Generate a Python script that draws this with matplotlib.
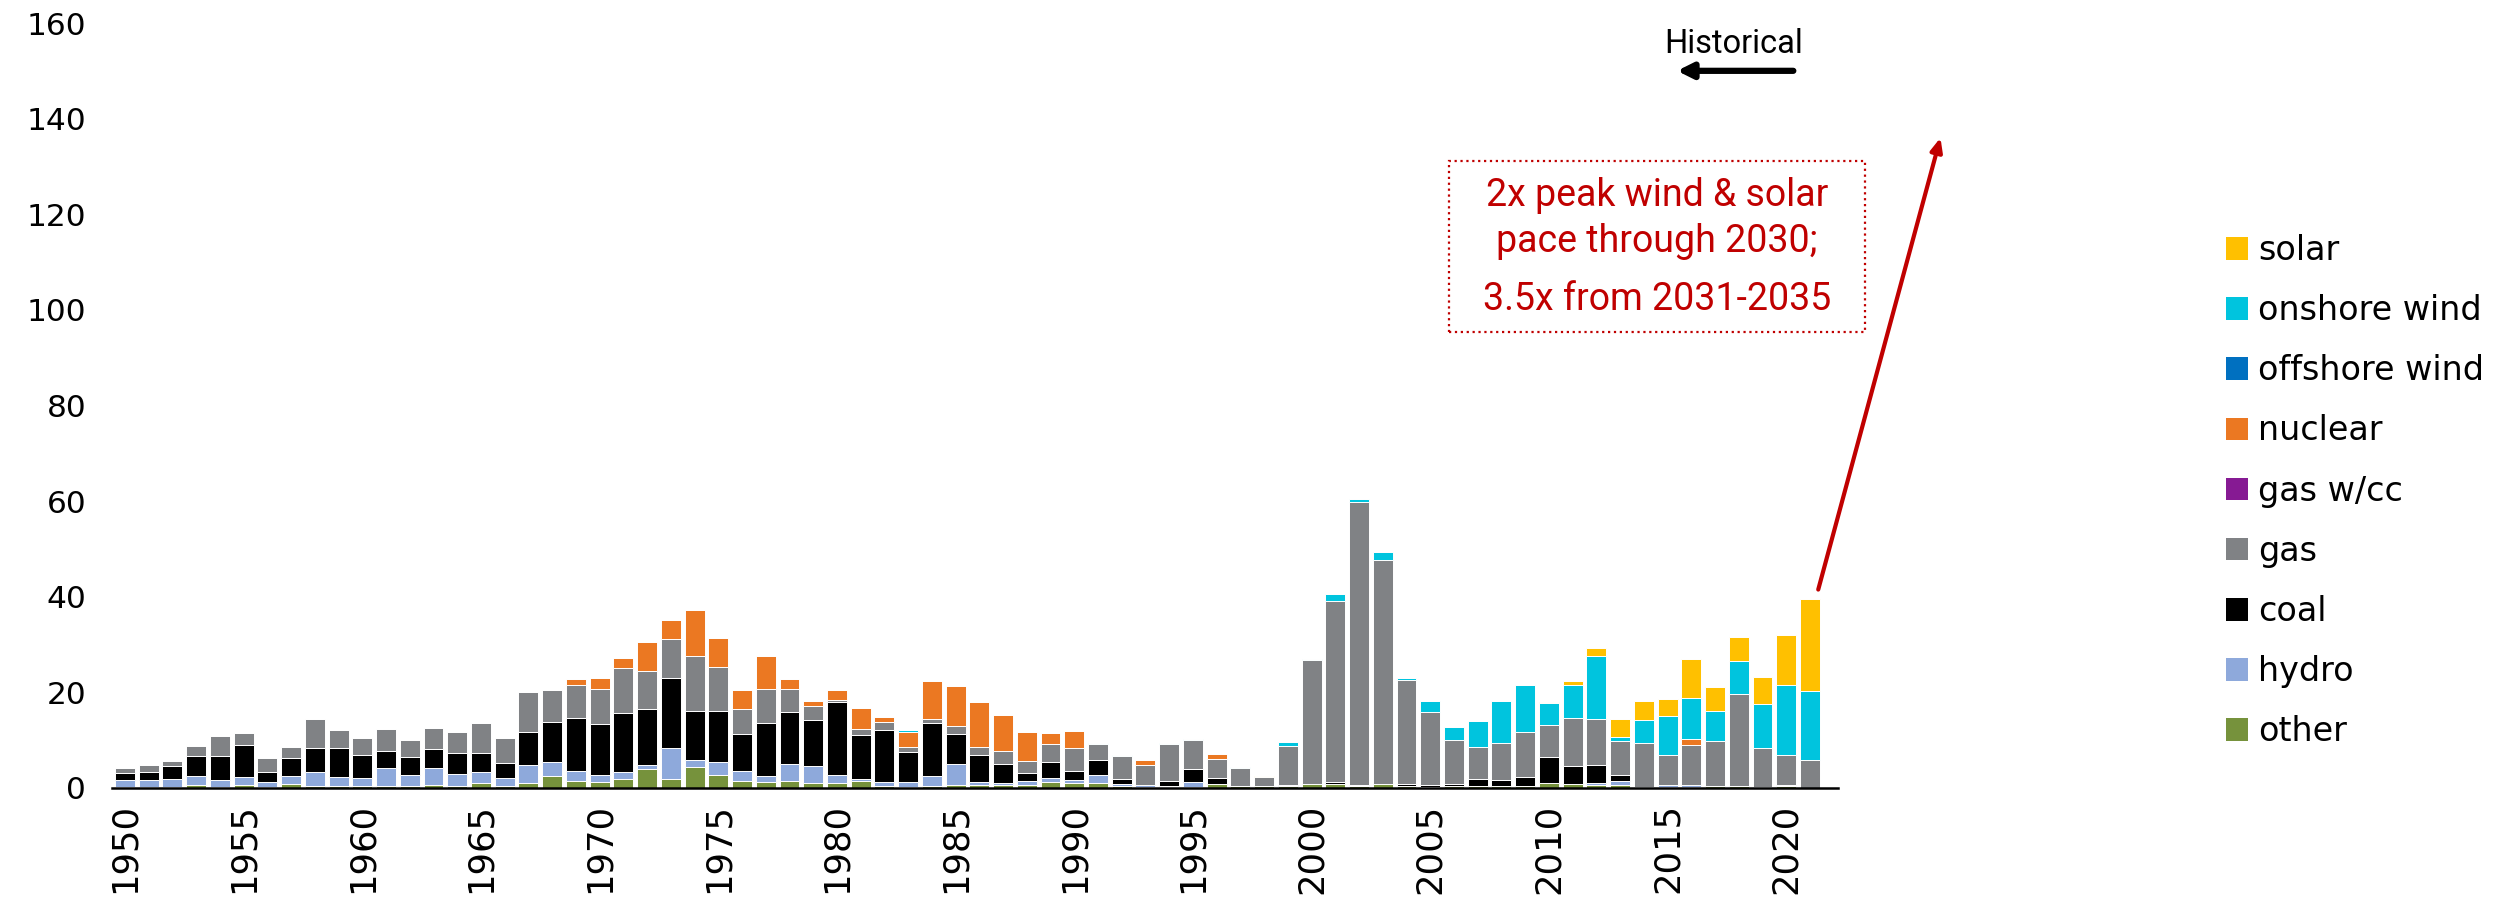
import numpy as np
import matplotlib
matplotlib.use("Agg")
import matplotlib.pyplot as plt
from matplotlib.patches import Patch, Rectangle

# capacity additions by year and type
years = list(range(1950, 2022))

other = [0.3, 0.2, 0.2, 0.6, 0.3, 0.7, 0.1, 0.9, 0.5, 0.5,
         0.4, 0.5, 0.35, 0.7, 0.5, 1.1, 0.4, 1.0, 2.6, 1.5,
         1.2, 1.8, 4.0, 1.9, 4.3, 2.7, 1.5, 1.3, 1.5, 1.1,
         1.1, 1.5, 0.35, 0.2, 0.4, 0.6, 0.6, 0.6, 0.6, 1.3,
         1.0, 1.0, 0.35, 0.3, 0.3, 0.2, 0.8, 0.5, 0.35, 0.35,
         0.8, 0.8, 0.4, 0.8, 0.4, 0.3, 0.5, 0.5, 0.4, 0.4,
         1.1, 0.8, 0.7, 0.7, 0.3, 0.3, 0.3, 0.5, 0.5, 0.3,
         0.4, 0.0]
hydro = [1.3, 1.4, 1.7, 2.0, 1.3, 1.6, 1.1, 1.5, 2.9, 1.7,
         1.6, 3.6, 2.4, 3.4, 2.4, 2.2, 1.6, 3.9, 2.9, 2.0,
         1.6, 1.5, 0.8, 6.5, 1.5, 2.8, 2.0, 1.3, 3.6, 3.4,
         1.7, 0.35, 1.0, 1.0, 2.0, 4.5, 0.7, 0.4, 0.8, 0.8,
         0.6, 1.7, 0.4, 0.3, 0.2, 1.1, 0.0, 0.0, 0.0, 0.0,
         0.0, 0.0, 0.2, 0.0, 0.0, 0.0, 0.0, 0.0, 0.0, 0.1,
         0.0, 0.0, 0.4, 0.7, 0.0, 0.3, 0.3, 0.0, 0.0, 0.0,
         0.2, 0.0]
coal = [1.5, 1.7, 2.7, 4.0, 5.1, 6.6, 2.2, 3.8, 5.0, 6.1,
        4.9, 3.7, 3.8, 4.1, 4.5, 4.1, 3.3, 6.8, 8.2, 11.2,
        10.6, 12.4, 11.7, 14.5, 10.2, 10.6, 7.7, 10.9, 10.8, 9.8,
        15.2, 9.2, 10.8, 6.4, 11.2, 6.1, 5.7, 4.1, 1.8, 3.4,
        1.9, 3.1, 1.2, 0.0, 0.9, 2.6, 1.2, 0.0, 0.0, 0.2,
        0.0, 0.35, 0.0, 0.0, 0.4, 0.3, 0.4, 1.3, 1.3, 1.7,
        5.4, 3.8, 3.7, 1.3, 0.0, 0.0, 0.0, 0.0, 0.0, 0.0,
        0.0, 0.0]
gas = [1.0, 1.5, 1.1, 2.2, 4.1, 2.6, 2.9, 2.4, 6.1, 3.9,
       3.6, 4.5, 3.4, 4.3, 4.3, 6.2, 5.2, 8.4, 6.8, 6.8,
       7.4, 9.3, 7.9, 8.3, 11.7, 9.1, 5.4, 7.3, 4.7, 2.9,
       0.5, 1.3, 1.7, 0.9, 0.9, 1.7, 1.6, 2.7, 2.5, 3.6,
       4.8, 3.3, 4.7, 4.3, 7.8, 6.1, 4.0, 3.6, 2.0, 8.2,
       26.0, 38.0, 59.2, 46.8, 21.7, 15.3, 9.1, 6.8, 7.8, 9.5,
       6.6, 10.0, 9.6, 7.2, 9.1, 6.3, 8.4, 9.4, 19.2, 8.1,
       6.3, 5.9]
gas_cc = [0.0, 0.0, 0.0, 0.0, 0.0, 0.0, 0.0, 0.0, 0.0, 0.0,
          0.0, 0.0, 0.0, 0.0, 0.0, 0.0, 0.0, 0.0, 0.0, 0.0,
          0.0, 0.0, 0.0, 0.0, 0.0, 0.0, 0.0, 0.0, 0.0, 0.0,
          0.0, 0.0, 0.0, 0.0, 0.0, 0.0, 0.0, 0.0, 0.0, 0.0,
          0.0, 0.0, 0.0, 0.0, 0.0, 0.0, 0.0, 0.0, 0.0, 0.0,
          0.0, 0.0, 0.0, 0.0, 0.0, 0.0, 0.0, 0.0, 0.0, 0.0,
          0.0, 0.0, 0.0, 0.0, 0.0, 0.0, 0.0, 0.0, 0.0, 0.0,
          0.0, 0.0]
nuclear = [0.0, 0.0, 0.0, 0.0, 0.0, 0.0, 0.0, 0.0, 0.0, 0.0,
           0.0, 0.0, 0.0, 0.0, 0.0, 0.0, 0.0, 0.0, 0.0, 1.3,
           2.2, 2.2, 6.2, 4.0, 9.6, 6.1, 3.8, 6.8, 2.2, 0.9,
           2.0, 4.3, 1.0, 3.2, 7.9, 8.5, 9.4, 7.5, 6.0, 2.4,
           3.6, 0.0, 0.0, 1.0, 0.0, 0.0, 1.1, 0.0, 0.0, 0.0,
           0.0, 0.0, 0.0, 0.0, 0.0, 0.0, 0.0, 0.0, 0.0, 0.0,
           0.0, 0.0, 0.0, 0.0, 0.0, 0.0, 1.2, 0.0, 0.0, 0.0,
           0.0, 0.0]
offshore_wind = [0.0, 0.0, 0.0, 0.0, 0.0, 0.0, 0.0, 0.0, 0.0, 0.0,
                 0.0, 0.0, 0.0, 0.0, 0.0, 0.0, 0.0, 0.0, 0.0, 0.0,
                 0.0, 0.0, 0.0, 0.0, 0.0, 0.0, 0.0, 0.0, 0.0, 0.0,
                 0.0, 0.0, 0.0, 0.0, 0.0, 0.0, 0.0, 0.0, 0.0, 0.0,
                 0.0, 0.0, 0.0, 0.0, 0.0, 0.0, 0.0, 0.0, 0.0, 0.0,
                 0.0, 0.0, 0.0, 0.0, 0.0, 0.0, 0.0, 0.0, 0.0, 0.0,
                 0.0, 0.0, 0.0, 0.0, 0.0, 0.0, 0.0, 0.0, 0.0, 0.0,
                 0.0, 0.0]
onshore_wind = [0.0, 0.0, 0.0, 0.0, 0.0, 0.0, 0.0, 0.0, 0.0, 0.0,
                0.0, 0.0, 0.0, 0.0, 0.0, 0.0, 0.0, 0.0, 0.0, 0.0,
                0.0, 0.0, 0.0, 0.0, 0.0, 0.0, 0.0, 0.0, 0.0, 0.0,
                0.0, 0.0, 0.0, 0.35, 0.0, 0.0, 0.0, 0.0, 0.0, 0.0,
                0.0, 0.3, 0.2, 0.0, 0.3, 0.2, 0.0, 0.2, 0.0, 0.8,
                0.2, 1.5, 0.7, 1.7, 0.4, 2.2, 2.7, 5.5, 8.6, 9.8,
                4.6, 6.9, 13.2, 0.8, 4.9, 8.1, 8.7, 6.1, 6.8, 9.1,
                14.7, 14.4]
solar = [0.0, 0.0, 0.0, 0.0, 0.0, 0.0, 0.0, 0.0, 0.0, 0.0,
         0.0, 0.0, 0.0, 0.0, 0.0, 0.0, 0.0, 0.0, 0.0, 0.0,
         0.0, 0.0, 0.0, 0.0, 0.0, 0.0, 0.0, 0.0, 0.0, 0.0,
         0.0, 0.0, 0.0, 0.0, 0.0, 0.0, 0.0, 0.0, 0.0, 0.0,
         0.0, 0.0, 0.0, 0.0, 0.0, 0.0, 0.0, 0.0, 0.2, 0.0,
         0.0, 0.0, 0.0, 0.0, 0.0, 0.0, 0.0, 0.0, 0.0, 0.0,
         0.3, 0.8, 1.7, 3.7, 3.8, 3.7, 8.1, 5.2, 5.0, 5.7,
         10.5, 19.2]

# bottom -> top stacking order
series = [
    ("other", other, "#76923C"),
    ("hydro", hydro, "#8EA9DB"),
    ("coal", coal, "#000000"),
    ("gas", gas, "#808285"),
    ("gas w/cc", gas_cc, "#861A93"),
    ("nuclear", nuclear, "#EB7822"),
    ("offshore wind", offshore_wind, "#0070C0"),
    ("onshore wind", onshore_wind, "#00C4DE"),
    ("solar", solar, "#FFC000"),
]

RED = "#C00000"

fig = plt.figure(figsize=(25.04, 8.99), dpi=100)
ax = fig.add_axes([0.0447, 0.1235, 0.6893, 0.8509])

x = np.array(years)
bottom = np.zeros(len(years))
for name, vals, col in series:
    v = np.array(vals)
    ax.bar(x, v, width=0.84, bottom=bottom, color=col,
           edgecolor="white", linewidth=0.7)
    bottom += v

ax.set_xlim(1949.45, 2022.18)
ax.set_ylim(0, 160)
ax.set_yticks(range(0, 161, 20))
ax.set_xticks(range(1950, 2021, 5))
ax.tick_params(axis="y", length=0, pad=18.5, labelsize=22.5)
ax.tick_params(axis="x", length=0, pad=11, labelsize=25.5, labelrotation=90)
for s in ["top", "right", "left"]:
    ax.spines[s].set_visible(False)
ax.spines["bottom"].set_linewidth(1.8)

# legend, top to bottom = reverse stacking
handles = [Patch(facecolor=col, edgecolor="none", label=name)
           for name, vals, col in series[::-1]]
fig.legend(handles=handles, loc="upper left",
           bbox_to_anchor=(2226 / 2504, 1 - 234 / 899),
           frameon=False, fontsize=24, borderpad=0, borderaxespad=0,
           handlelength=0.66, handleheight=0.66, handletextpad=0.3,
           labelspacing=0.815)

# Historical marker
ax.text(2017.8, 155.6, "Historical", ha="center", va="center",
        fontsize=23.5, family="Roboto", clip_on=False)
ax.annotate("", xy=(2015.4, 150.0), xytext=(2020.3, 150.0),
            arrowprops=dict(arrowstyle="-|>,head_length=0.9,head_width=0.45",
                            color="black", lw=4.5, shrinkA=0, shrinkB=0),
            annotation_clip=False)

# call-out box
ax.add_patch(Rectangle((2005.8, 95.4), 17.5, 35.8, fill=False,
                       edgecolor=RED, linestyle=":", linewidth=1.6,
                       clip_on=False))
ax.text(2014.55, 124.0, "2x peak wind & solar", color=RED, ha="center",
        va="center", fontsize=27, family="Roboto", clip_on=False)
ax.text(2014.55, 114.4, "pace through 2030;", color=RED, ha="center",
        va="center", fontsize=27, family="Roboto", clip_on=False)
ax.text(2014.55, 102.1, "3.5x from 2031-2035", color=RED, ha="center",
        va="center", fontsize=27, family="Roboto", clip_on=False)

# red growth arrow
ax.annotate("", xy=(2026.5, 136.0), xytext=(2021.35, 41.5),
            arrowprops=dict(arrowstyle="-|>,head_length=0.8,head_width=0.35",
                            color=RED, lw=3, shrinkA=0, shrinkB=0),
            annotation_clip=False)

fig.savefig("out.png", dpi=100)
